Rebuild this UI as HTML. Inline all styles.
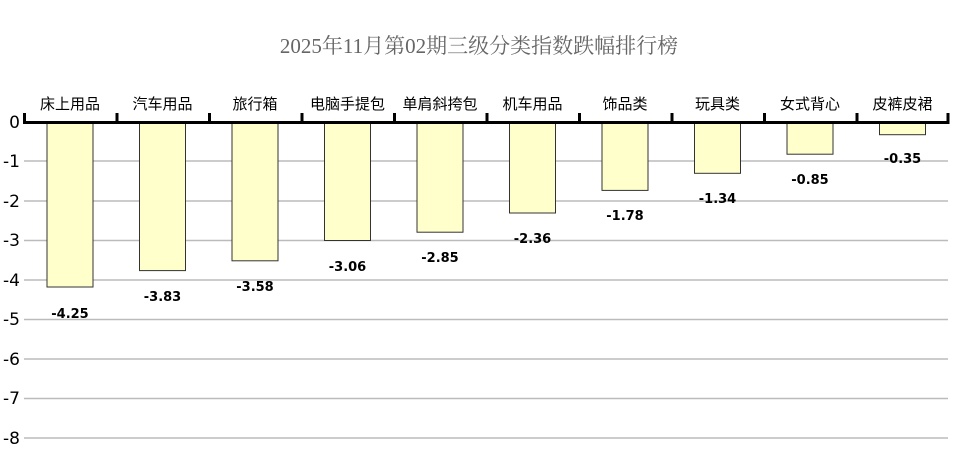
<!DOCTYPE html>
<html><head><meta charset="utf-8"><style>
body{margin:0;background:#fff}
svg{display:block}
</style></head><body>
<svg width="953" height="470" viewBox="0 0 953 470" xmlns="http://www.w3.org/2000/svg">
<text x="479" y="53" font-size="21" fill="#666" text-anchor="middle" style="font-family:'Liberation Serif','Noto Serif CJK SC',serif">2025年11月第02期三级分类指数跌幅排行榜</text>
<g stroke="#bbb" stroke-width="1.5">
<line x1="24" x2="948" y1="161" y2="161"/><line x1="24" x2="948" y1="201" y2="201"/>
<line x1="24" x2="948" y1="240.5" y2="240.5"/><line x1="24" x2="948" y1="280" y2="280"/>
<line x1="24" x2="948" y1="319.5" y2="319.5"/><line x1="24" x2="948" y1="359" y2="359"/>
<line x1="24" x2="948" y1="398.5" y2="398.5"/><line x1="24" x2="948" y1="438" y2="438"/>
</g>
<g font-size="17" fill="#000" text-anchor="end" style="font-family:'DejaVu Sans',sans-serif">
<text x="20" y="128">0</text><text x="20" y="167">-1</text><text x="20" y="207">-2</text>
<text x="20" y="246">-3</text><text x="20" y="286">-4</text><text x="20" y="325">-5</text>
<text x="20" y="365">-6</text><text x="20" y="404">-7</text><text x="20" y="444">-8</text>
</g>
<g fill="#ffffcc" stroke="#333" stroke-width="1">
<rect x="47" y="123" width="46" height="164"/>
<rect x="139.5" y="123" width="46" height="147.6"/>
<rect x="232" y="123" width="46" height="137.8"/>
<rect x="324.5" y="123" width="46" height="117.5"/>
<rect x="417" y="123" width="46" height="109.2"/>
<rect x="509.5" y="123" width="46" height="90"/>
<rect x="602" y="123" width="46" height="67.4"/>
<rect x="694.5" y="123" width="46" height="50.3"/>
<rect x="787" y="123" width="46" height="31.2"/>
<rect x="879.5" y="123" width="46" height="11.7"/>
</g>
<g font-size="13" font-weight="bold" fill="#000" text-anchor="middle" style="font-family:'DejaVu Sans',sans-serif">
<text x="70" y="318">-4.25</text><text x="162.5" y="301">-3.83</text><text x="255" y="291">-3.58</text>
<text x="347.5" y="271">-3.06</text><text x="440" y="262">-2.85</text><text x="532.5" y="243">-2.36</text>
<text x="625" y="220">-1.78</text><text x="717.5" y="203">-1.34</text><text x="810" y="184">-0.85</text>
<text x="902.5" y="163">-0.35</text>
</g>
<line x1="23" x2="949" y1="122.5" y2="122.5" stroke="#000" stroke-width="3"/>
<g stroke="#000" stroke-width="3">
<line x1="24.5" x2="24.5" y1="113" y2="124"/><line x1="117" x2="117" y1="113" y2="124"/>
<line x1="209.5" x2="209.5" y1="113" y2="124"/><line x1="302" x2="302" y1="113" y2="124"/>
<line x1="394.5" x2="394.5" y1="113" y2="124"/><line x1="487" x2="487" y1="113" y2="124"/>
<line x1="579.5" x2="579.5" y1="113" y2="124"/><line x1="672" x2="672" y1="113" y2="124"/>
<line x1="764.5" x2="764.5" y1="113" y2="124"/><line x1="857" x2="857" y1="113" y2="124"/>
<line x1="948" x2="948" y1="113" y2="124"/>
</g>
<g font-size="15" fill="#000" text-anchor="middle" style="font-family:'Liberation Sans','Noto Sans CJK SC',sans-serif">
<text x="70" y="109">床上用品</text><text x="162.5" y="109">汽车用品</text><text x="255" y="109">旅行箱</text>
<text x="347.5" y="109">电脑手提包</text><text x="440" y="109">单肩斜挎包</text><text x="532.5" y="109">机车用品</text>
<text x="625" y="109">饰品类</text><text x="717.5" y="109">玩具类</text><text x="810" y="109">女式背心</text>
<text x="902.5" y="109">皮裤皮裙</text>
</g>
</svg>
</body></html>
